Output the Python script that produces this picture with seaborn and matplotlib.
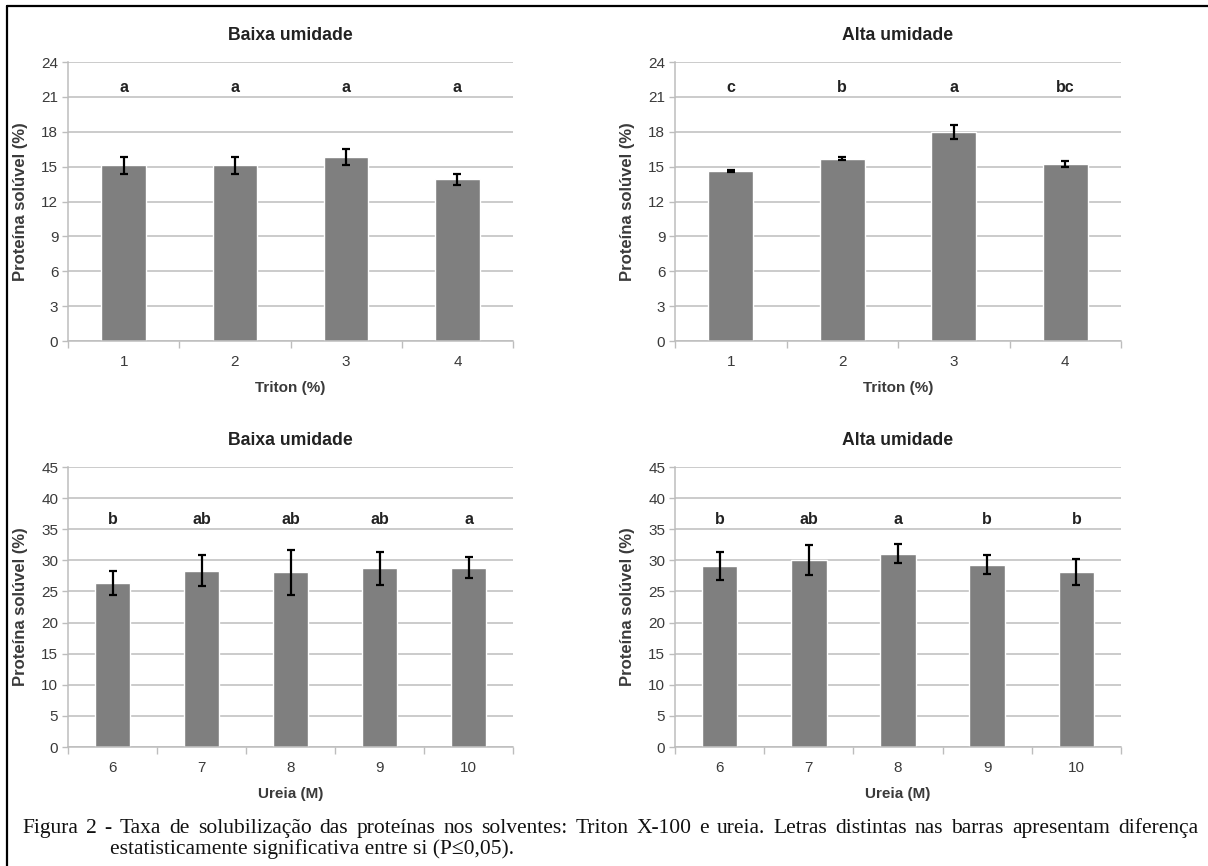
import numpy as np
import pandas as pd
import matplotlib
matplotlib.use("Agg")
import matplotlib.pyplot as plt
from matplotlib.lines import Line2D
import seaborn as sns

# --- data ---------------------------------------------------------------
triton_cats = ["1", "2", "3", "4"]
triton_baixa = [15.1, 15.1, 15.8, 13.9]
triton_baixa_err = [0.75, 0.7, 0.7, 0.45]
triton_baixa_letters = ["a", "a", "a", "a"]
triton_alta = [14.6, 15.7, 18.0, 15.2]
triton_alta_err = [0.1, 0.15, 0.6, 0.25]
triton_alta_letters = ["c", "b", "a", "bc"]

ureia_cats = ["6", "7", "8", "9", "10"]
ureia_baixa = [26.4, 28.3, 28.1, 28.7, 28.8]
ureia_baixa_err = [1.9, 2.5, 3.6, 2.6, 1.7]
ureia_baixa_letters = ["b", "ab", "ab", "ab", "a"]
ureia_alta = [29.1, 30.0, 31.1, 29.3, 28.1]
ureia_alta_err = [2.2, 2.4, 1.6, 1.5, 2.1]
ureia_alta_letters = ["b", "ab", "a", "b", "b"]

caption_line1 = ("Figura 2 - Taxa de solubilização das proteínas nos solventes: "
                 "Triton X-100 e ureia. Letras distintas nas barras apresentam diferença")
caption_line2 = "estatisticamente significativa entre si (P≤0,05)."

BAR = "#7f7f7f"
GRID = "#bdbdbd"
TXT = "#3a3a3a"

sns.set_theme(style="whitegrid")
plt.rcParams["font.family"] = ["Liberation Sans", "DejaVu Sans"]


def panel(ax, cats, vals, errs, letters, title, xlabel, ymax, ystep, letter_y):
    df = pd.DataFrame({"cat": cats, "val": vals})
    sns.barplot(data=df, x="cat", y="val", color=BAR, saturation=1,
                width=0.4, errorbar=None, ax=ax)
    ax.errorbar(np.arange(len(cats)), vals, yerr=errs, fmt="none",
                ecolor="black", elinewidth=1.6, capsize=3, capthick=1.6)
    for i, lab in enumerate(letters):
        ax.text(i, letter_y, lab, ha="center", va="center",
                fontsize=11.5, fontweight="bold", color="#222222")
    n = len(cats)
    ax.set_xlim(-0.5, n - 0.5)
    ax.set_ylim(0, ymax)
    ax.set_yticks(np.arange(0, ymax + 0.1, ystep))
    ax.set_xticks(np.arange(-0.5, n, 1.0), minor=True)
    ax.tick_params(axis="x", which="major", length=0, pad=10,
                   labelsize=11, labelcolor=TXT)
    ax.tick_params(axis="x", which="minor", length=5, width=1,
                   color=GRID, direction="out", bottom=True)
    ax.tick_params(axis="y", length=4, width=1, color=GRID, left=True,
                   pad=3, labelsize=11, labelcolor=TXT)
    ax.grid(axis="y", color=GRID, linewidth=1.1)
    ax.grid(axis="x", visible=False)
    for s in ["top", "right"]:
        ax.spines[s].set_visible(False)
    for s in ["left", "bottom"]:
        ax.spines[s].set_visible(True)
        ax.spines[s].set_color(GRID)
        ax.spines[s].set_linewidth(1.1)
    ax.set_facecolor("white")
    ax.set_title(title, fontsize=12.7, fontweight="bold", color="#222222", pad=16)
    ax.set_xlabel(xlabel, fontsize=11, fontweight="bold", color=TXT, labelpad=9)
    ax.set_ylabel("Proteína solúvel (%)", fontsize=12, fontweight="bold",
                  color=TXT)
    ax.yaxis.set_label_coords(-0.09, 0.5)


fig = plt.figure(figsize=(12.08, 8.66), dpi=100)
fig.patch.set_facecolor("white")

ax1 = fig.add_axes([0.0563, 0.6062, 0.3684, 0.3222])
ax2 = fig.add_axes([0.5588, 0.6062, 0.3692, 0.3222])
ax3 = fig.add_axes([0.0563, 0.1374, 0.3684, 0.3233])
ax4 = fig.add_axes([0.5588, 0.1374, 0.3692, 0.3233])

panel(ax1, triton_cats, triton_baixa, triton_baixa_err, triton_baixa_letters,
      "Baixa umidade", "Triton (%)", 24, 3, 21.8)
panel(ax2, triton_cats, triton_alta, triton_alta_err, triton_alta_letters,
      "Alta umidade", "Triton (%)", 24, 3, 21.8)
panel(ax3, ureia_cats, ureia_baixa, ureia_baixa_err, ureia_baixa_letters,
      "Baixa umidade", "Ureia (M)", 45, 5, 36.6)
panel(ax4, ureia_cats, ureia_alta, ureia_alta_err, ureia_alta_letters,
      "Alta umidade", "Ureia (M)", 45, 5, 36.6)

# frame lines (top and left, as in the cropped figure box)
fig.add_artist(Line2D([0.0058, 1.0], [0.9935, 0.9935], transform=fig.transFigure,
                      color="black", linewidth=1.6))
fig.add_artist(Line2D([0.0058, 0.0058], [0.0, 0.9935], transform=fig.transFigure,
                      color="black", linewidth=1.6))

# caption, first line justified across the width
serif = ["Liberation Serif", "DejaVu Serif"]
cap_size = 15.5
W, H = fig.bbox.width, fig.bbox.height
x0, x1 = 22 / W, 1198 / W
y1 = 1 - 833 / H
y2 = 1 - 854 / H
renderer = fig.canvas.get_renderer()
words = caption_line1.split()
txts = [fig.text(0, y1, w, family=serif, fontsize=cap_size, color="#111111",
                 va="baseline", ha="left") for w in words]
widths = [t.get_window_extent(renderer).width / W for t in txts]
gap = (x1 - x0 - sum(widths)) / (len(words) - 1)
x = x0
for t, w in zip(txts, widths):
    t.set_x(x)
    x += w + gap
fig.text(110 / W, y2, caption_line2, family=serif, fontsize=cap_size,
         color="#111111", va="baseline", ha="left")

fig.savefig("out.png", dpi=100, facecolor="white")
